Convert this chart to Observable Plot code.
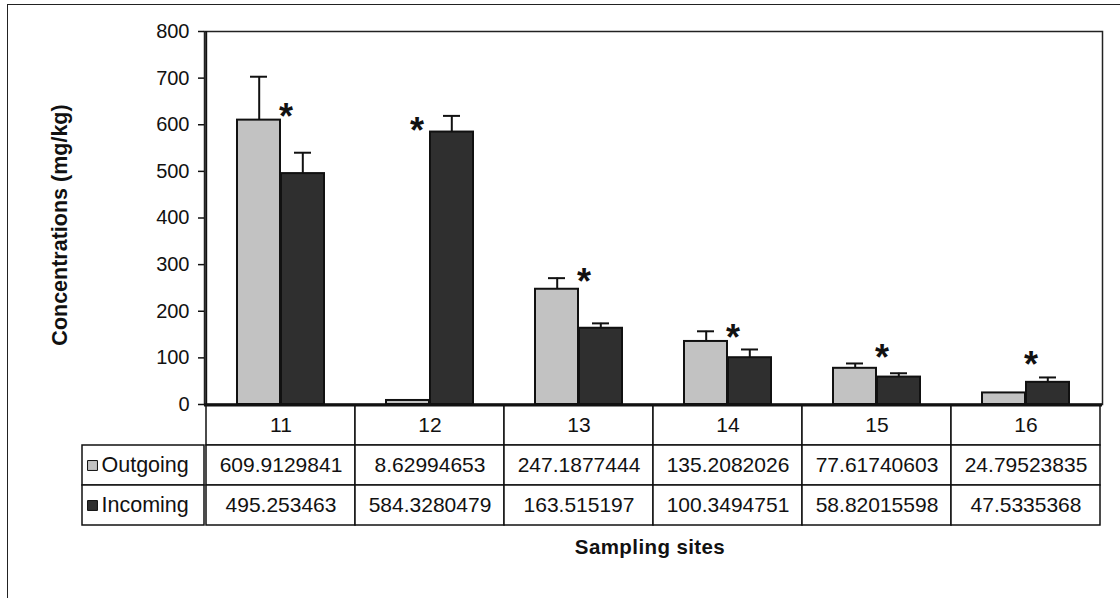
<!DOCTYPE html>
<html>
<head>
<meta charset="utf-8">
<script src="https://cdn.jsdelivr.net/npm/d3@7"></script>
<script src="https://cdn.jsdelivr.net/npm/@observablehq/plot@0.6"></script>
<style>
  body { margin: 0; background: #fff; width: 1120px; height: 598px; overflow: hidden; position: relative;
         font-family: "Liberation Sans", Arial, sans-serif; color: #111; }
  #border { position: absolute; left: 7px; top: 4px; width: 1300px; height: 800px; border: 1.5px solid #222; }
  #chart { position: absolute; left: 0; top: 0; }
  #table { position: absolute; left: 0; top: 402px; }
  #ytitle { position: absolute; left: 60px; top: 225px; transform: translate(-50%, -50%) rotate(-90deg);
            font-weight: bold; font-size: 21.5px; white-space: nowrap; }
  #xtitle { position: absolute; left: 650px; top: 547px; transform: translate(-50%, -50%);
            font-weight: bold; font-size: 20.5px; letter-spacing: 0.4px; white-space: nowrap; }
  svg text { font-family: "Liberation Sans", Arial, sans-serif; }
</style>
</head>
<body>
<div id="border"></div>
<div id="chart"></div>
<div id="table"></div>
<div id="ytitle">Concentrations (mg/kg)</div>
<div id="xtitle">Sampling sites</div>
<script>
// ---- data ----
const sites = ["11", "12", "13", "14", "15", "16"];
const seriesNames = ["Outgoing", "Incoming"];
const outgoing = [609.9129841, 8.62994653, 247.1877444, 135.2082026, 77.61740603, 24.79523835];
const incoming = [495.253463, 584.3280479, 163.515197, 100.3494751, 58.82015598, 47.5335368];
const outgoingLabels = ["609.9129841", "8.62994653", "247.1877444", "135.2082026", "77.61740603", "24.79523835"];
const incomingLabels = ["495.253463", "584.3280479", "163.515197", "100.3494751", "58.82015598", "47.5335368"];
const outgoingErrTop = [703, null, 271, 157, 88, null];
const incomingErrTop = [540, 619, 174, 118, 67, 58];
const asteriskValue = [634, 604, 282, 160, 117, 104];
const yTicks = [0, 100, 200, 300, 400, 500, 600, 700, 800];
const tableRows = ["site", "Outgoing", "Incoming"];
const seriesColors = ["#c2c2c2", "#2f2f2f"];

// ---- records built from the arrays ----
const outRecs = sites.map((s, i) => ({site: s, series: "Outgoing", value: outgoing[i], top: outgoingErrTop[i]}));
const inRecs = sites.map((s, i) => ({site: s, series: "Incoming", value: incoming[i], top: incomingErrTop[i]}));
const astRecs = sites.map((s, i) => ({site: s, value: asteriskValue[i]}));
const cells = [];
sites.forEach((s, i) => {
  cells.push({site: s, row: "site", label: s});
  cells.push({site: s, row: "Outgoing", label: outgoingLabels[i]});
  cells.push({site: s, row: "Incoming", label: incomingLabels[i]});
});

const W = 1120, ML = 204, MR = 18;
const color = {domain: seriesNames, range: seriesColors};

const chart = Plot.plot({
  width: W, height: 405,
  marginLeft: ML, marginRight: MR, marginTop: 31, marginBottom: 1,
  x: {type: "band", domain: sites, padding: 0, axis: null},
  y: {domain: [0, 800], axis: null},
  color,
  style: {background: "transparent", overflow: "visible"},
  marks: [
    Plot.frame({stroke: "#222", strokeWidth: 1.5}),
    Plot.axisY({ticks: yTicks, tickSize: 6, tickPadding: 9, fontSize: 20, label: null, stroke: "#111", strokeWidth: 1.5}),
    Plot.barY(outRecs, {x: "site", y: "value", fill: "series", stroke: "#111", strokeWidth: 2, insetLeft: 31, insetRight: 75}),
    Plot.barY(inRecs, {x: "site", y: "value", fill: "series", stroke: "#111", strokeWidth: 2, insetLeft: 75, insetRight: 31}),
    Plot.ruleX(outRecs.filter(d => d.top != null), {x: "site", y1: "value", y2: "top", dx: -21.8, stroke: "#111", strokeWidth: 2}),
    Plot.ruleX(inRecs.filter(d => d.top != null), {x: "site", y1: "value", y2: "top", dx: 21.8, stroke: "#111", strokeWidth: 2}),
    Plot.tickY(outRecs.filter(d => d.top != null), {x: "site", y: "top", insetLeft: 44, insetRight: 88, stroke: "#111", strokeWidth: 2}),
    Plot.tickY(inRecs.filter(d => d.top != null), {x: "site", y: "top", insetLeft: 88, insetRight: 44, stroke: "#111", strokeWidth: 2}),
    Plot.text(astRecs.filter(d => d.site !== "12"), {x: "site", y: "value", text: () => "*", dx: 5, dy: 9, fontSize: 36, fontWeight: "bold", fill: "#111"}),
    Plot.text(astRecs.filter(d => d.site === "12"), {x: "site", y: "value", text: () => "*", dx: -13, dy: 9, fontSize: 36, fontWeight: "bold", fill: "#111"}),
    Plot.ruleY([0], {stroke: "#111", strokeWidth: 2.5}),
    Plot.ruleX([sites[0]], {x: d => d, dx: -74.8, stroke: "#111", strokeWidth: 2})
  ]
});
document.getElementById("chart").appendChild(chart);

const table = Plot.plot({
  width: W, height: 126,
  marginLeft: ML, marginRight: MR, marginTop: 2, marginBottom: 3,
  x: {type: "band", domain: sites, padding: 0, axis: null},
  y: {type: "band", domain: tableRows, padding: 0, axis: null},
  color,
  style: {background: "transparent", overflow: "visible"},
  marks: [
    Plot.cell(cells, {x: "site", y: "row", fill: "white", stroke: "#111", strokeWidth: 1.5}),
    Plot.cell(seriesNames, {y: d => d, fill: "white", stroke: "#111", strokeWidth: 1.5, insetLeft: -122, insetRight: W - ML - MR}),
    Plot.text(cells, {x: "site", y: "row", text: "label", fontSize: 21, fill: "#111"}),
    Plot.dot(seriesNames, {y: d => d, frameAnchor: "left", dx: -112, symbol: "square", r: 5.6, fill: d => d, stroke: "#111", strokeWidth: 1}),
    Plot.text(seriesNames, {y: d => d, frameAnchor: "left", dx: -103, textAnchor: "start", text: d => d, fontSize: 21.5, fill: "#111"}),
    Plot.ruleY(["site"], {y: d => d, dy: -20.2, stroke: "#111", strokeWidth: 2.5})
  ]
});
document.getElementById("table").appendChild(table);
</script>
</body>
</html>
